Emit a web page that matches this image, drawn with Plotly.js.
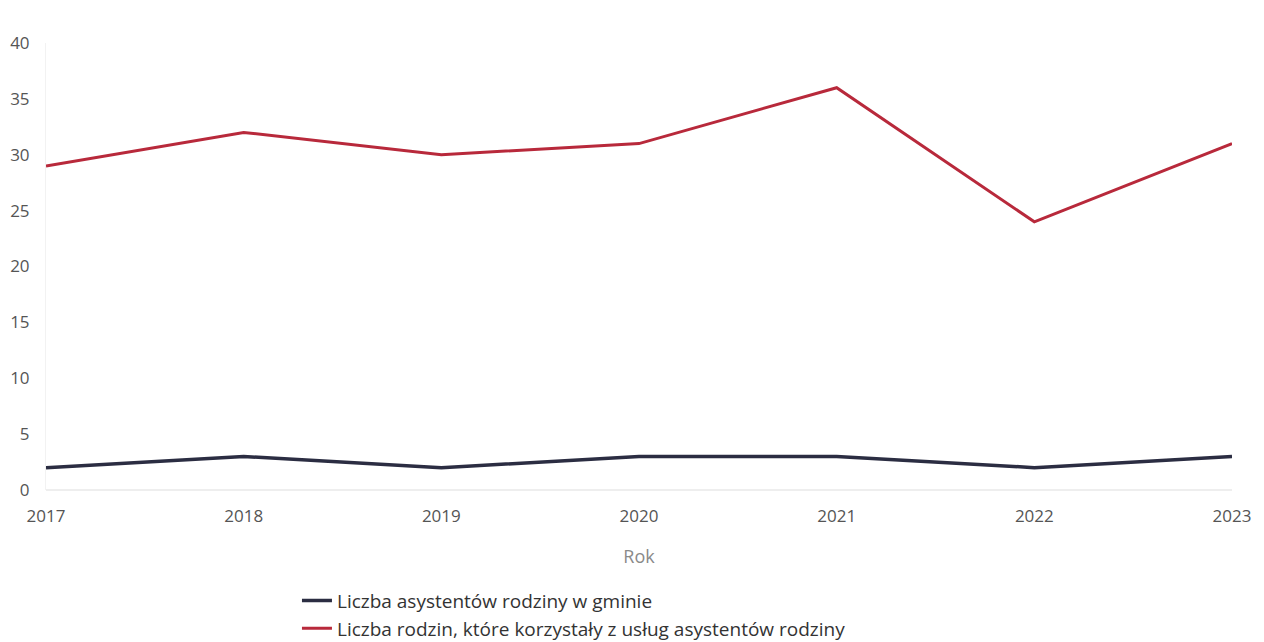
<!DOCTYPE html>
<html>
<head>
<meta charset="utf-8">
<script src="https://cdn.plot.ly/plotly-3.0.1.min.js"></script>
<style>
html,body{margin:0;padding:0;background:#fff;}
#chart{width:1264px;height:642px;}
</style>
</head>
<body>
<div id="chart"></div>
<script>
const years = ["2017","2018","2019","2020","2021","2022","2023"];
const asystenci = [2, 3, 2, 3, 3, 2, 3];
const rodziny = [29, 32, 30, 31, 36, 24, 31];
const seriesNames = [
  "Liczba asystentów rodziny w gminie",
  "Liczba rodzin, które korzystały z usług asystentów rodziny"
];

const traces = [
  {x: years, y: asystenci, name: seriesNames[0], type: "scatter", mode: "lines",
   line: {color: "#2b2d42", width: 3.5}},
  {x: years, y: rodziny, name: seriesNames[1], type: "scatter", mode: "lines",
   line: {color: "#b8293b", width: 3}}
];

const layout = {
  width: 1264, height: 642,
  margin: {l: 46, r: 32, t: 43, b: 152, autoexpand: false},
  paper_bgcolor: "#fff", plot_bgcolor: "#fff",
  font: {family: "Open Sans, sans-serif", size: 17, color: "#555"},
  showlegend: true,
  xaxis: {
    type: "category", range: [0, 6],
    showgrid: false, zeroline: false, automargin: false,
    showline: false, ticks: "", tickfont: {size: 17, color: "#555"},
    ticklabelstandoff: 14,
    title: {text: "Rok", font: {size: 18, color: "#8a8a8a"}, standoff: 24}
  },
  yaxis: {
    range: [0, 40], dtick: 5, showgrid: false, automargin: false,
    zeroline: true, zerolinecolor: "#eeeeee", zerolinewidth: 2,
    showline: true, linecolor: "#f2f2f2", linewidth: 1,
    ticks: "", tickfont: {size: 17, color: "#555"}, ticklabelstandoff: 12
  },
  legend: {
    orientation: "v",
    x: 0.2116, y: -0.205, xanchor: "left", yanchor: "top",
    font: {size: 19, color: "#333"}, itemwidth: 30, tracegroupgap: 0
  }
};

Plotly.newPlot("chart", traces, layout, {displayModeBar: false, staticPlot: true});
</script>
</body>
</html>
